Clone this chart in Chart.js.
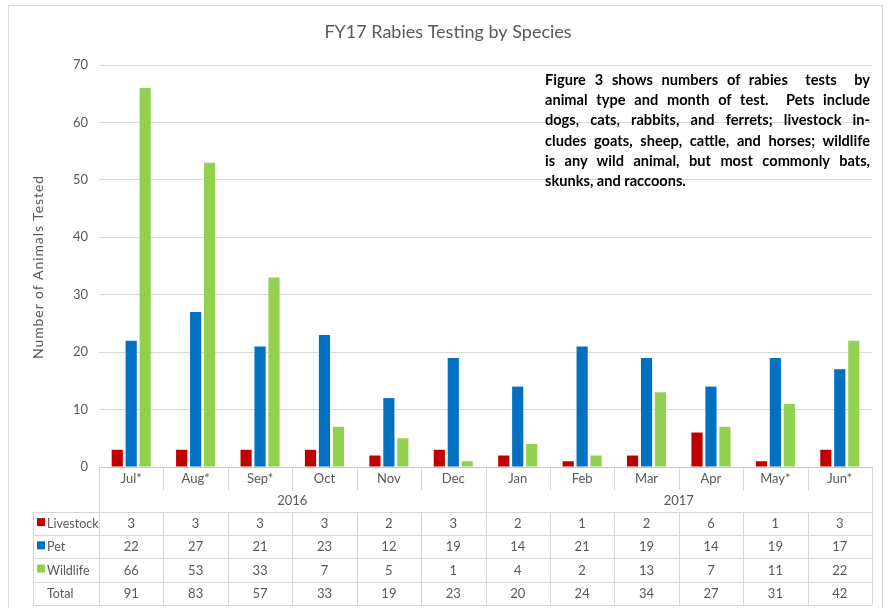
<!DOCTYPE html>
<html>
<head>
<meta charset="utf-8">
<script src="https://cdn.jsdelivr.net/npm/chart.js@4.4.1/dist/chart.umd.min.js"></script>
<style>
  html, body { margin: 0; padding: 0; background: #fff; }
  #wrap { position: relative; width: 888px; height: 608px; }
  canvas { position: absolute; left: 0; top: 0; }
  #note {
    position: absolute; left: 545px; top: 70px; width: 325px;
    font-family: Lato, "Open Sans", sans-serif; font-weight: bold;
    font-size: 14.6px; line-height: 20.2px; color: #000;
  }
  #note span { display: block; text-align: justify; text-align-last: justify; white-space: nowrap; }
  #note span.last { text-align-last: left; }
</style>
</head>
<body>
<div id="wrap">
  <canvas id="c" width="888" height="608"></canvas>
  <div id="note">
    <span>Figure 3 shows numbers of rabies &nbsp;tests &nbsp;by</span>
    <span>animal type and month of test. &nbsp;Pets include</span>
    <span>dogs, cats, rabbits, and ferrets; livestock in-</span>
    <span>cludes goats, sheep, cattle, and horses; wildlife</span>
    <span>is any wild animal, but most commonly bats,</span>
    <span class="last">skunks, and raccoons.</span>
  </div>
</div>
<script>
const months = ["Jul*", "Aug*", "Sep*", "Oct", "Nov", "Dec", "Jan", "Feb", "Mar", "Apr", "May*", "Jun*"];
const years = [{ label: "2016", from: 0, to: 5 }, { label: "2017", from: 6, to: 11 }];
const livestock = [3, 3, 3, 3, 2, 3, 2, 1, 2, 6, 1, 3];
const pet = [22, 27, 21, 23, 12, 19, 14, 21, 19, 14, 19, 17];
const wildlife = [66, 53, 33, 7, 5, 1, 4, 2, 13, 7, 11, 22];
const yTicks = [0, 10, 20, 30, 40, 50, 60, 70];
const titleText = "FY17 Rabies Testing by Species";
const yTitle = "Number of Animals Tested";

const FONT = 'Lato, "Open Sans", sans-serif';
const GREY = '#595959';
const LINE = '#d6d6d6';

const tablePlugin = {
  id: 'tablePlugin',
  afterDraw(chart) {
    const ctx = chart.ctx;
    const x = chart.scales.x;
    const area = chart.chartArea;
    const left = area.left, right = area.right;
    const top = area.bottom;
    const rowH = 23.2;
    const labelLeft = 33;
    const n = months.length;
    const cw = (right - left) / n;
    const edge = i => left + i * cw;
    ctx.save();
    ctx.strokeStyle = '#d9d9d9';
    ctx.lineWidth = 1;
    ctx.strokeRect(8.5, 5.5, 874, 610);

    ctx.fillStyle = GREY;
    ctx.font = '18px ' + FONT;
    ctx.textAlign = 'center';
    ctx.textBaseline = 'middle';
    ctx.fillText(titleText, 448, 32);

    ctx.save();
    ctx.translate(38, 267);
    ctx.rotate(-Math.PI / 2);
    ctx.font = '14px ' + FONT;
    ctx.letterSpacing = '0.9px';
    ctx.fillText(yTitle, 0, 0);
    ctx.restore();

    ctx.strokeStyle = LINE;
    ctx.lineWidth = 1;
    const hl = (x1, x2, y) => { ctx.beginPath(); ctx.moveTo(x1, Math.round(y) + 0.5); ctx.lineTo(x2, Math.round(y) + 0.5); ctx.stroke(); };
    const vl = (xx, y1, y2) => { ctx.beginPath(); ctx.moveTo(Math.round(xx) + 0.5, y1); ctx.lineTo(Math.round(xx) + 0.5, y2); ctx.stroke(); };

    const yMonthBottom = top + rowH * 1;
    const rowsTop = top + 45;
    const bottom = rowsTop + rowH * 4;

    for (let i = 1; i < n; i++) vl(edge(i), top, yMonthBottom);
    years.forEach((yr, k) => { if (k > 0) vl(edge(yr.from), top, bottom); });
    vl(left, top, bottom);
    vl(right, top, bottom);
    for (let r = 0; r <= 4; r++) hl(labelLeft, right, rowsTop + r * rowH);
    vl(labelLeft, rowsTop, bottom);
    for (let i = 1; i < n; i++) vl(edge(i), rowsTop, bottom);

    ctx.fillStyle = GREY;
    ctx.font = '13px ' + FONT;
    ctx.textAlign = 'center';
    months.forEach((m, i) => ctx.fillText(m, x.getPixelForValue(i), top + 12));
    years.forEach(yr => ctx.fillText(yr.label, (edge(yr.from) + edge(yr.to + 1)) / 2, top + 34));

    const rows = [
      { name: 'Livestock', data: livestock, color: '#C00000' },
      { name: 'Pet', data: pet, color: '#0070C0' },
      { name: 'Wildlife', data: wildlife, color: '#92D050' },
      { name: 'Total', data: months.map((_, i) => livestock[i] + pet[i] + wildlife[i]), color: null }
    ];
    rows.forEach((row, r) => {
      const cy = rowsTop + r * rowH + rowH / 2 + 0.5;
      if (row.color) {
        ctx.fillStyle = row.color;
        ctx.fillRect(37, cy - 6, 8, 8);
      }
      ctx.fillStyle = GREY;
      ctx.textAlign = 'left';
      ctx.font = '12.5px ' + FONT;
      ctx.fillText(row.name, 47, cy);
      ctx.font = '13px ' + FONT;
      ctx.textAlign = 'center';
      row.data.forEach((v, i) => ctx.fillText(String(v), x.getPixelForValue(i), cy));
    });
    ctx.restore();
  }
};

new Chart(document.getElementById('c'), {
  type: 'bar',
  data: {
    labels: months,
    datasets: [
      { label: 'Livestock', data: livestock, backgroundColor: '#C00000' },
      { label: 'Pet', data: pet, backgroundColor: '#0070C0' },
      { label: 'Wildlife', data: wildlife, backgroundColor: '#92D050' }
    ]
  },
  options: {
    responsive: false,
    animation: false,
    devicePixelRatio: 1,
    layout: { padding: { left: 0, right: 16, top: 65, bottom: 141 } },
    datasets: { bar: { categoryPercentage: 0.65, barPercentage: 0.8 } },
    plugins: { legend: { display: false }, title: { display: false }, tooltip: { enabled: false } },
    scales: {
      x: { display: false },
      y: {
        min: 0, max: 70,
        afterFit(scale) { scale.width = 99; },
        afterBuildTicks(scale) { scale.ticks = yTicks.map(v => ({ value: v })); },
        border: { display: false },
        grid: {
          drawTicks: false,
          color: ctx => ctx.tick && ctx.tick.value === 0 ? '#c8c8c8' : '#d9d9d9'
        },
        ticks: { color: GREY, font: { family: FONT, size: 13 }, padding: 11 }
      }
    }
  },
  plugins: [tablePlugin]
});
</script>
</body>
</html>
